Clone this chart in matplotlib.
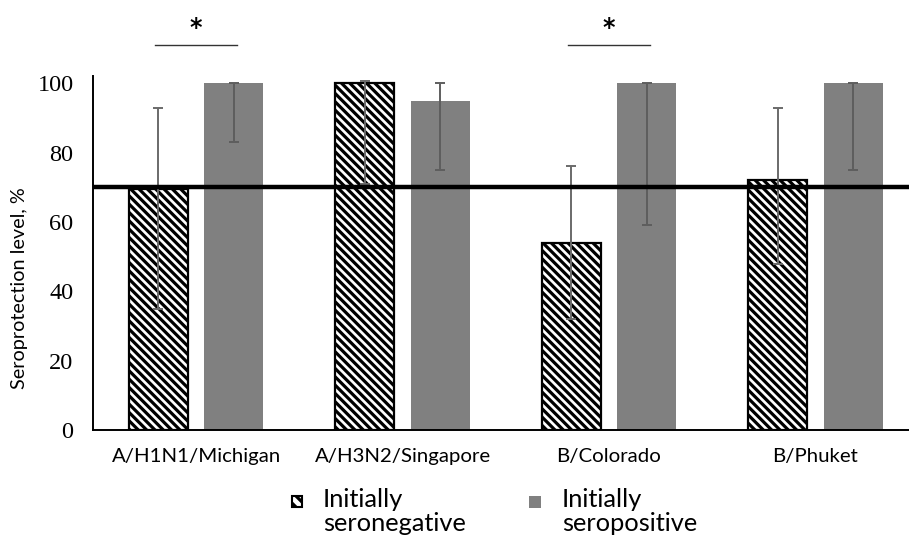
import numpy as np
import matplotlib
matplotlib.use('Agg')
import matplotlib.pyplot as plt
from matplotlib.patches import Rectangle

# data
strains = ['A/H1N1/Michigan', 'A/H3N2/Singapore', 'B/Colorado', 'B/Phuket']
neg_vals = [69.6, 100, 54, 72]
neg_low = [35, 71, 32, 48]
neg_high = [93, 100.7, 76, 93]
pos_vals = [100, 95, 100, 100]
pos_low = [83, 75, 59, 75]
pos_high = [100, 100, 100, 100]
threshold = 70
sig_groups = [0, 2]
yticks = [0, 20, 40, 60, 80, 100]

plt.rcParams['hatch.linewidth'] = 2.3
plt.rcParams['hatch.color'] = 'black'

fig = plt.figure(figsize=(9.09, 5.37), dpi=100)
ax = fig.add_axes([0.1023, 0.1993, 0.9083, 0.6585])

x = np.arange(len(strains))
off = 0.183
w = 0.286
err_neg = [np.array(neg_vals) - np.array(neg_low), np.array(neg_high) - np.array(neg_vals)]
err_pos = [np.array(pos_vals) - np.array(pos_low), np.array(pos_high) - np.array(pos_vals)]

ax.bar(x - off, neg_vals, w, color='white', edgecolor='black', linewidth=1.6,
       hatch='\\\\\\\\', zorder=2)
ax.bar(x + off, pos_vals, w, color='#808080', edgecolor='none', zorder=2)
ax.errorbar(x - off, neg_vals, yerr=err_neg, fmt='none', ecolor='#6a6a6a',
            elinewidth=1.4, capsize=3.6, capthick=1.4, zorder=3)
ax.errorbar(x + off, pos_vals, yerr=err_pos, fmt='none', ecolor='#5e5e5e',
            elinewidth=1.4, capsize=3.6, capthick=1.4, zorder=3)
ax.axhline(threshold, color='black', linewidth=3.2, zorder=4)

# significance marks above the plot
for g in sig_groups:
    ax.plot([g - 0.2, g + 0.2], [111, 111], color='#333333', linewidth=1.0,
            clip_on=False)
    ax.text(g, 116, '*', ha='center', va='center', fontsize=17,
            fontweight='bold', family='DejaVu Sans', clip_on=False)

ax.set_xlim(-0.5, 3.5)
ax.set_ylim(0, 102)
ax.set_yticks(yticks)
ax.set_yticklabels([str(t) for t in yticks], family='Liberation Serif', fontsize=17.5)
ax.set_xticks(x)
ax.set_xticklabels(strains, family='Lato', fontsize=14.7)
ax.tick_params(axis='y', length=0, pad=14)
ax.tick_params(axis='x', length=0, pad=13)
ax.spines['top'].set_visible(False)
ax.spines['right'].set_visible(False)
ax.spines['left'].set_linewidth(1.4)
ax.spines['bottom'].set_linewidth(1.4)

fig.text(0.021, 0.4628, 'Seroprotection level, %', rotation=90, ha='center',
         va='center', family='Lato', fontsize=14.3)

# legend
W, H = 909.0, 537.0
fig.add_artist(Rectangle((292 / W, 1 - 507 / H), 10 / W, 11 / H, transform=fig.transFigure,
                         facecolor='white', edgecolor='black', linewidth=1.5,
                         hatch='\\\\\\'))
fig.add_artist(Rectangle((529 / W, 1 - 508 / H), 12 / W, 12 / H, transform=fig.transFigure,
                         facecolor='#808080', edgecolor='none'))
fig.text(323 / W, 1 - 488 / H, 'Initially\nseronegative', ha='left', va='top',
         family='Lato', fontsize=18.3, linespacing=1.05)
fig.text(562 / W, 1 - 488 / H, 'Initially\nseropositive', ha='left', va='top',
         family='Lato', fontsize=18.3, linespacing=1.05)

fig.savefig('out.png', dpi=100)
